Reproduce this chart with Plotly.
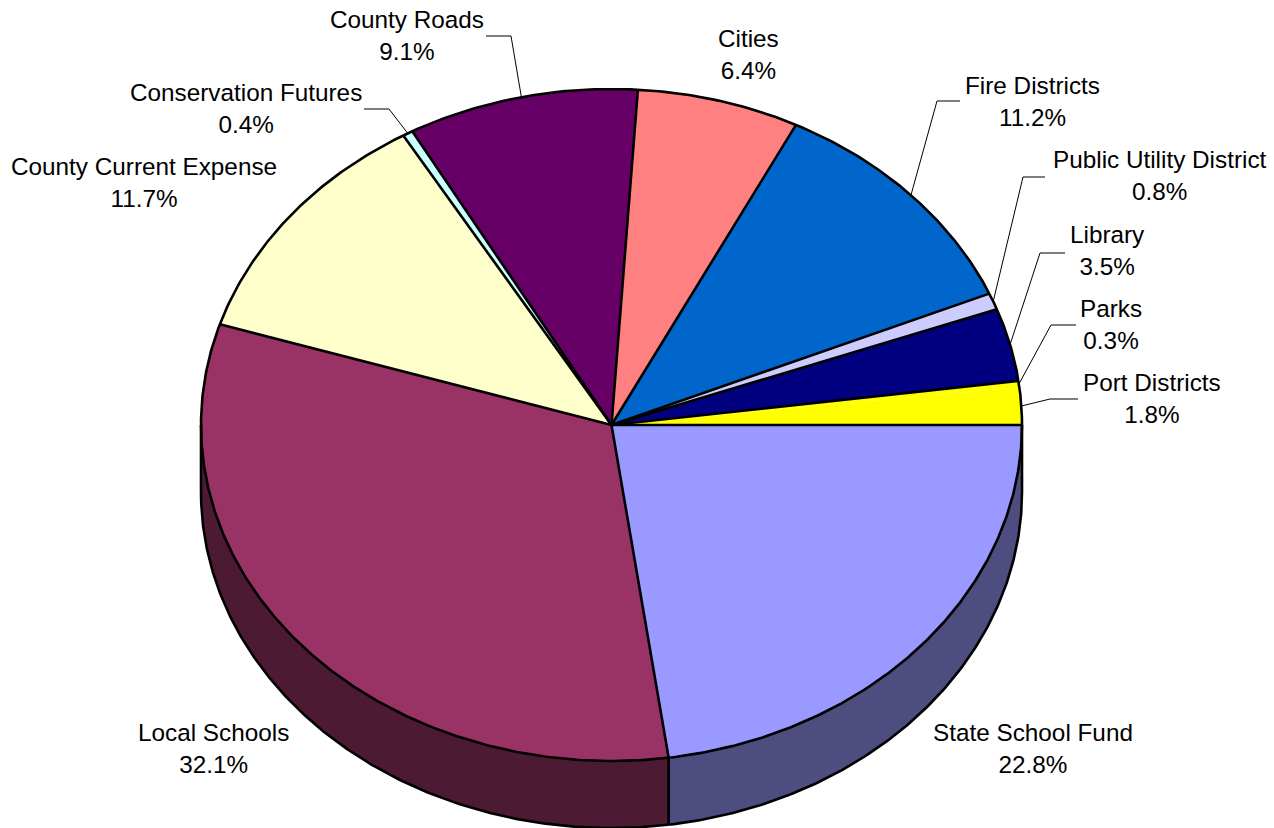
import numpy as np
import plotly.graph_objects as go

# Tax distribution shares, clockwise from the east edge of the pie
categories = ["State School Fund", "Local Schools", "County Current Expense",
              "Conservation Futures", "County Roads", "Cities", "Fire Districts",
              "Public Utility District", "Library", "Parks", "Port Districts"]
shares = [22.8, 32.1, 11.7, 0.4, 9.1, 6.4, 11.2, 0.8, 3.5, 0.3, 1.8]

top_colors = ["#9999FF", "#993366", "#FFFFCC", "#CCFFFF", "#660066", "#FF8080",
              "#0066CC", "#CCCCFF", "#000080", "#FFFF00", "#FFFF00"]
wall_colors = {"State School Fund": "#4D4D80", "Local Schools": "#4D1A33"}

# Text anchors and leader elbows in page pixels
label_xy = {
    "State School Fund": (1033, 748), "Local Schools": (213.5, 748),
    "County Current Expense": (143.5, 182), "Conservation Futures": (245.5, 108),
    "County Roads": (406.5, 35), "Cities": (748, 54), "Fire Districts": (1032, 101),
    "Public Utility District": (1159.5, 175), "Library": (1107, 250),
    "Parks": (1110.5, 324), "Port Districts": (1151.5, 398),
}
leader_elbows = {
    "Conservation Futures": [(389, 109), (364, 109)],
    "County Roads": [(511, 36), (486, 36)],
    "Fire Districts": [(937, 101), (960, 101)],
    "Public Utility District": [(1023, 177), (1045, 177)],
    "Library": [(1040, 253), (1065, 253)],
    "Parks": [(1051, 325), (1076, 325)],
    "Port Districts": [(1050, 399), (1078, 399)],
}

CX, CY, RX, RY, DEPTH = 611.5, 425.0, 410.5, 336.0, 67.0
EDGE = 2.6
FONT = dict(family="Liberation Sans, Arial, sans-serif", size=24.3, color="#000000")

total = sum(shares)
bounds = np.cumsum([0.0] + shares) / total * 2 * np.pi


def rim(a, b, drop=0.0):
    n = max(2, int(abs(b - a) * 180 / np.pi) * 2 + 2)
    t = np.linspace(a, b, n)
    return CX + RX * np.cos(t), CY + RY * np.sin(t) + drop


fig = go.Figure()


def outline(x, y, width=EDGE):
    fig.add_trace(go.Scatter(x=list(x), y=list(y), mode="lines", hoverinfo="skip",
                             showlegend=False,
                             line=dict(color="#000000", width=width)))


def polygon(x, y, color, name):
    fig.add_trace(go.Scatter(x=list(x), y=list(y), mode="lines", fill="toself",
                             fillcolor=color, line=dict(width=0, color=color),
                             name=name, hoverinfo="name", showlegend=False))


# Side wall: only the front half of the cylinder is visible
for i, name in enumerate(categories):
    if name not in wall_colors:
        continue
    a, b = bounds[i], min(bounds[i + 1], np.pi)
    xt, yt = rim(a, b)
    xb, yb = rim(a, b, DEPTH)
    polygon(np.r_[xt, xb[::-1]], np.r_[yt, yb[::-1]], wall_colors[name], name)

# Top face
for i, name in enumerate(categories):
    xr, yr = rim(bounds[i], bounds[i + 1])
    polygon(np.r_[CX, xr, CX], np.r_[CY, yr, CY], top_colors[i], name)

# Wall edges
xb, yb = rim(0, np.pi, DEPTH)
outline(xb, yb)
for t in (0.0, bounds[1], np.pi):
    xt, yt = CX + RX * np.cos(t), CY + RY * np.sin(t)
    outline([xt, xt], [yt, yt + DEPTH])

# Spokes between slices; Parks and Port Districts share one yellow area
parks = categories.index("Parks")
for i in range(len(categories)):
    if i == parks + 1:
        continue
    t = bounds[i]
    outline([CX, CX + RX * np.cos(t)], [CY, CY + RY * np.sin(t)])
xr, yr = rim(0, 2 * np.pi)
outline(xr, yr)

# Leader lines start on the rim at each slice's middle angle
for name, elbows in leader_elbows.items():
    i = categories.index(name)
    mid = (bounds[i] + bounds[i + 1]) / 2
    px, py = CX + RX * np.cos(mid), CY + RY * np.sin(mid)
    outline([px] + [e[0] for e in elbows], [py] + [e[1] for e in elbows], width=1)

for name, value in zip(categories, shares):
    x, y = label_xy[name]
    fig.add_annotation(x=x, y=y, text=f"{name}<br>{value:.1f}%", showarrow=False,
                       xanchor="center", yanchor="middle", align="center", font=FONT)

fig.update_layout(
    width=1274, height=828, margin=dict(l=0, r=0, t=0, b=0, pad=0),
    paper_bgcolor="#FFFFFF", plot_bgcolor="#FFFFFF", showlegend=False,
    xaxis=dict(range=[0, 1274], visible=False, fixedrange=True),
    yaxis=dict(range=[828, 0], visible=False, fixedrange=True),
)
fig.write_html("out.html", config=dict(displayModeBar=False))
